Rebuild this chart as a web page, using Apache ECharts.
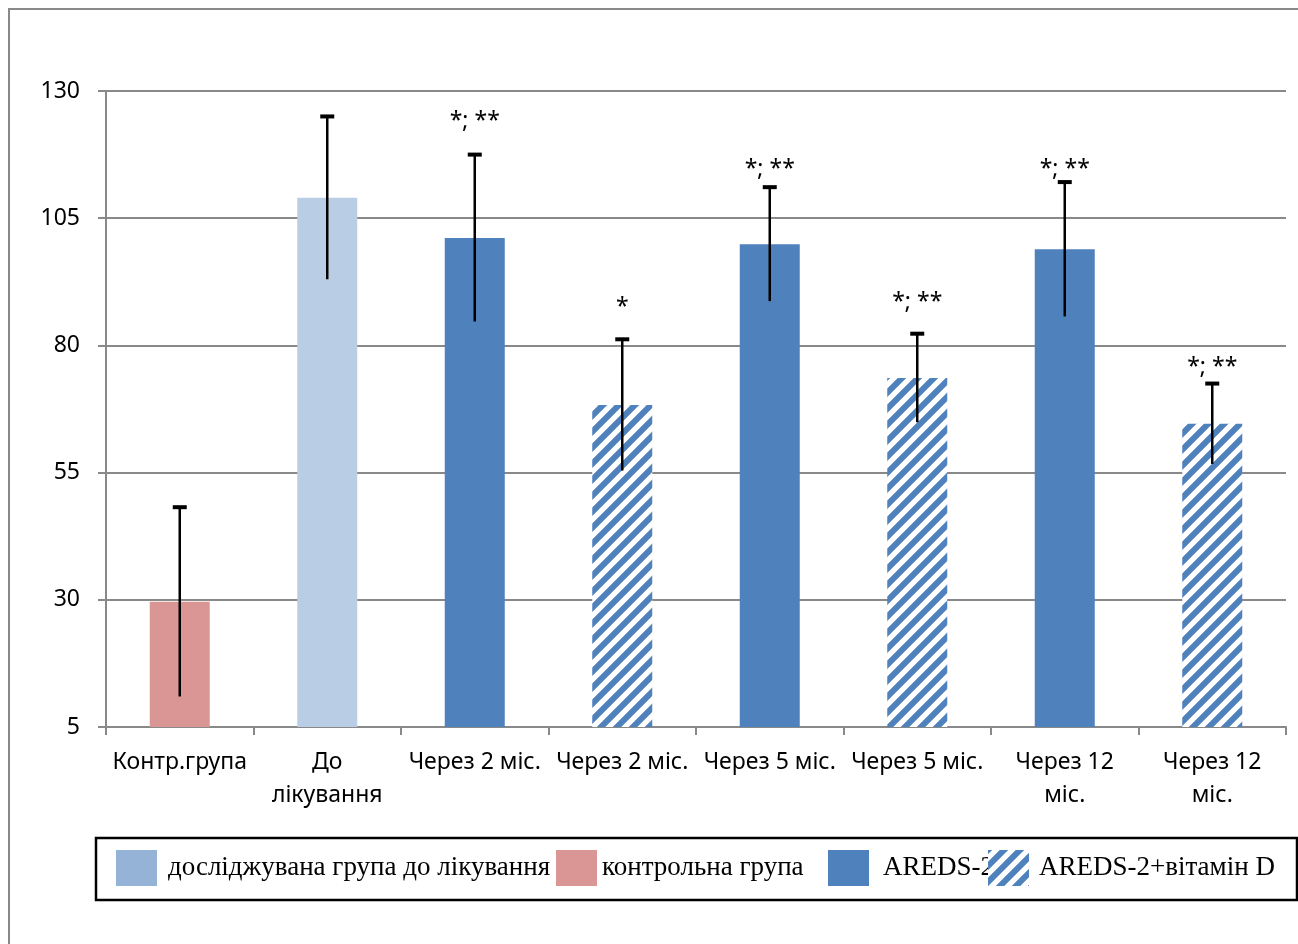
<!DOCTYPE html>
<html>
<head>
<meta charset="utf-8">
<script src="https://cdn.jsdelivr.net/npm/echarts@6/dist/echarts.min.js"></script>
<style>
html,body{margin:0;padding:0;background:#fff;}
#chart{width:1298px;height:944px;}
</style>
</head>
<body>
<div id="chart"></div>
<script>
// ---- data ----
const categories = ['Контр.група', 'До\nлікування', 'Через 2 міс.', 'Через 2 міс.', 'Через 5 міс.', 'Через 5 міс.', 'Через 12\nміс.', 'Через 12\nміс.'];
const seriesNames = ['досліджувана група до лікування', 'контрольна група', 'AREDS-2', 'AREDS-2+вітамін D'];
const groupOf = [1, 0, 2, 3, 2, 3, 2, 3];
const means = [29.6, 109.0, 101.1, 68.3, 99.9, 73.6, 98.9, 64.6];
const sds = [18.6, 16.0, 16.4, 12.9, 11.2, 8.7, 13.2, 7.9];
const annotations = ['', '', '*; **', '*', '*; **', '*; **', '*; **', '*; **'];
const annotY = [null, null, 124.9, 88.5, 115.5, 89.5, 115.5, 76.7];
const yTicks = [5, 30, 55, 80, 105, 130];

// ---- styles ----
const BASE = yTicks[0];
const AXIS_MAX = yTicks[yTicks.length - 1] - BASE;
const INTERVAL = yTicks[1] - yTicks[0];
const GREY = '#898989';

function hatch() {
  const c = document.createElement('canvas');
  const p = 16;
  c.width = p; c.height = p;
  const g = c.getContext('2d');
  g.fillStyle = '#ffffff';
  g.fillRect(0, 0, p, p);
  g.strokeStyle = '#4F81BD';
  g.lineWidth = 6;
  g.beginPath();
  g.moveTo(-p, p); g.lineTo(p, -p);
  g.moveTo(0, p); g.lineTo(p, 0);
  g.moveTo(0, 2 * p); g.lineTo(2 * p, 0);
  g.stroke();
  return { image: c, repeat: 'repeat' };
}
const seriesColors = ['#B9CDE5', '#D99694', '#4F81BD', hatch()];
const legendColors = ['#95B3D7', '#D99694', '#4F81BD', null];
const legendLeft = [116, 556, 828, 988];
const legendTextGap = [6, 0, 9, 5];

const barSeries = seriesNames.map((name, g) => ({
  name: name,
  type: 'bar',
  barWidth: 60,
  barGap: '-100%',
  itemStyle: { color: seriesColors[g] },
  data: means.map((m, i) => (groupOf[i] === g ? m - BASE : null)),
  z: 2
}));

const errSeries = {
  type: 'custom',
  z: 5,
  encode: { x: 0, y: 1 },
  data: means.map((m, i) => [i, m - BASE, sds[i]]),
  renderItem: function (params, api) {
    const i = api.value(0), m = api.value(1), s = api.value(2);
    const top = api.coord([i, m + s]);
    const bot = api.coord([i, m - s]);
    return {
      type: 'group',
      children: [
        { type: 'line', shape: { x1: top[0], y1: top[1], x2: bot[0], y2: bot[1] }, style: { stroke: '#000', lineWidth: 2.5 } },
        { type: 'line', shape: { x1: top[0] - 7, y1: top[1], x2: top[0] + 7, y2: top[1] }, style: { stroke: '#000', lineWidth: 4 } }
      ]
    };
  }
};

const annSeries = {
  type: 'custom',
  z: 6,
  encode: { x: 0, y: 1 },
  data: annotY.map((v, i) => [i, v == null ? 0 : v - BASE, i]),
  renderItem: function (params, api) {
    const idx = api.value(2);
    const txt = annotations[idx];
    if (!txt) return null;
    const pt = api.coord([api.value(0), api.value(1)]);
    return {
      type: 'text',
      x: pt[0], y: pt[1] + 5,
      style: { text: txt, fill: '#000', font: '23px "Noto Sans"', align: 'center', verticalAlign: 'middle' }
    };
  }
};

const legends = seriesNames.map((n, g) => {
  const item = { name: n };
  if (legendColors[g]) item.itemStyle = { color: legendColors[g] };
  return {
    data: [item],
    left: legendLeft[g],
    top: 850,
    padding: 0,
    icon: 'rect',
    itemWidth: 41,
    itemHeight: 36,
    selectedMode: false,
    textStyle: { fontFamily: '"Liberation Serif", serif', fontSize: 27, color: '#000', padding: [0, 0, 14, legendTextGap[g]] },
    z: 10 + g
  };
});

const chart = echarts.init(document.getElementById('chart'), null, { renderer: 'canvas' });
chart.setOption({
  animation: false,
  backgroundColor: '#fff',
  grid: { left: 106, right: 12, top: 91, bottom: 217 },
  xAxis: {
    type: 'category',
    data: categories,
    axisLine: { lineStyle: { color: GREY, width: 2 } },
    axisTick: { show: true, length: 8, lineStyle: { color: GREY, width: 2 } },
    axisLabel: { interval: 0, color: '#000', fontFamily: '"Noto Sans"', fontSize: 23, lineHeight: 33, margin: 19 }
  },
  yAxis: {
    type: 'value',
    min: 0,
    max: AXIS_MAX,
    interval: INTERVAL,
    axisLine: { show: true, lineStyle: { color: GREY, width: 2 } },
    axisTick: { show: true, length: 8, lineStyle: { color: GREY, width: 2 } },
    axisLabel: { color: '#000', fontFamily: '"Noto Sans"', fontSize: 23, margin: 26, formatter: v => String(v + BASE) },
    splitLine: { show: true, lineStyle: { color: GREY, width: 2 } }
  },
  legend: legends,
  graphic: [
    { type: 'rect', shape: { x: 9, y: 9, width: 1300, height: 950 }, style: { fill: 'none', stroke: GREY, lineWidth: 2 }, z: 0, silent: true },
    { type: 'rect', shape: { x: 96, y: 838, width: 1201, height: 62 }, style: { fill: 'none', stroke: '#000', lineWidth: 2.5 }, z: 0, silent: true }
  ],
  series: barSeries.concat([errSeries, annSeries])
});
</script>
</body>
</html>
